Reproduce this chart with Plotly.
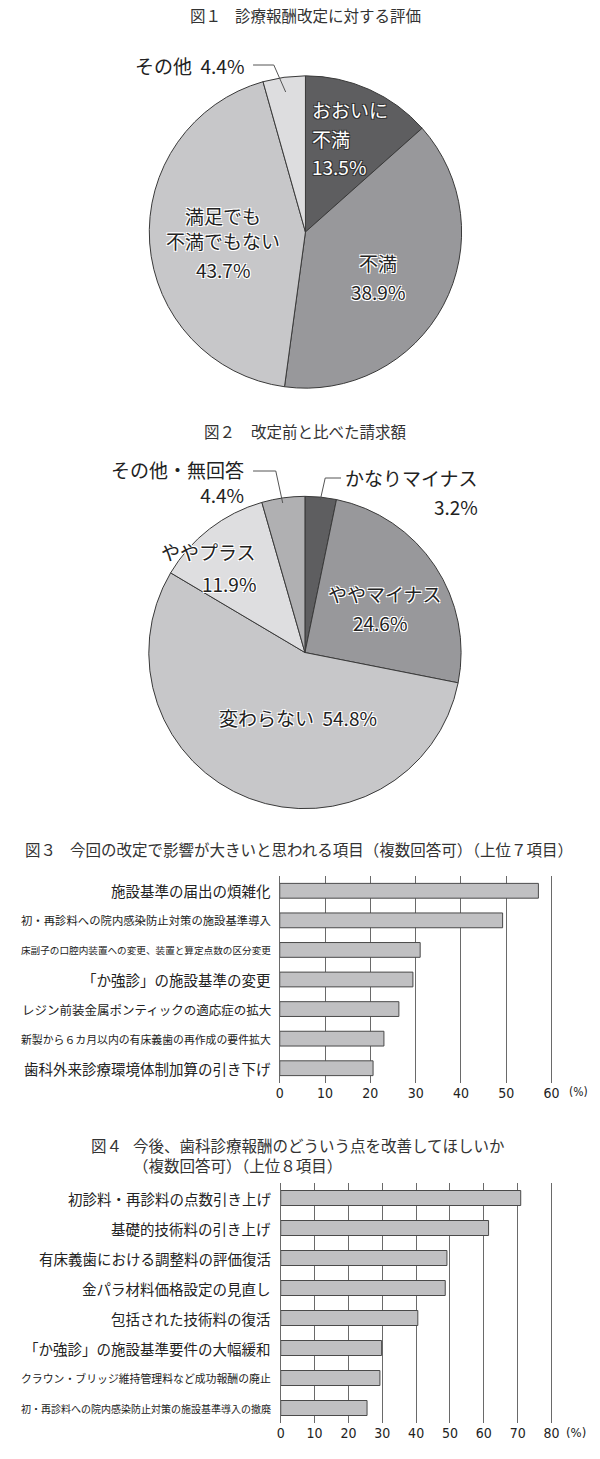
import plotly.graph_objects as go

# ---------------- data ----------------
pie1_labels = ["おおいに\n不満", "不満", "満足でも\n不満でもない", "その他"]
pie1_values = [13.5, 38.9, 43.7, 4.4]

pie2_labels = ["かなりマイナス", "ややマイナス", "変わらない", "ややプラス", "その他・無回答"]
pie2_values = [3.2, 24.6, 54.8, 11.9, 4.4]

fig3_items = [
    "施設基準の届出の煩雑化",
    "初・再診料への院内感染防止対策の施設基準導入",
    "床副子の口腔内装置への変更、装置と算定点数の区分変更",
    "「か強診」の施設基準の変更",
    "レジン前装金属ポンティックの適応症の拡大",
    "新製から６カ月以内の有床義歯の再作成の要件拡大",
    "歯科外来診療環境体制加算の引き下げ",
]
fig3_values = [57.1, 49.2, 31.0, 29.4, 26.3, 23.0, 20.6]

fig4_items = [
    "初診料・再診料の点数引き上げ",
    "基礎的技術料の引き上げ",
    "有床義歯における調整料の評価復活",
    "金パラ材料価格設定の見直し",
    "包括された技術料の復活",
    "「か強診」の施設基準要件の大幅緩和",
    "クラウン・ブリッジ維持管理料など成功報酬の廃止",
    "初・再診料への院内感染防止対策の施設基準導入の撤廃",
]
fig4_values = [70.9, 61.4, 49.1, 48.6, 40.5, 29.8, 29.3, 25.5]

fig3_max = 60
fig4_max = 80

titles = [
    ("図１", "診療報酬改定に対する評価"),
    ("図２", "改定前と比べた請求額"),
    ("図３", "今回の改定で影響が大きいと思われる項目（複数回答可）（上位７項目）"),
    ("図４", "今後、歯科診療報酬のどういう点を改善してほしいか\n（複数回答可）（上位８項目）"),
]

# ---------------- styling / layout helpers ----------------
W, H = 600, 1459
JP = "Noto Sans CJK JP, Noto Sans, sans-serif"
NUM = "Liberation Sans Narrow, DejaVu Sans Condensed, Roboto, sans-serif"
TXT = "#222222"
WHITE_HALO = "1px 1px 0 #fff, -1px -1px 0 #fff, 1px -1px 0 #fff, -1px 1px 0 #fff"
DARK_HALO = "1px 1px 0 #333, -1px -1px 0 #333, 1px -1px 0 #333, -1px 1px 0 #333"


def px(x):
    return x / W


def py(y):
    return 1 - y / H


def dom_x(a, b):
    return [px(a), px(b)]


def dom_y(top, bottom):
    return [py(bottom), py(top)]


pie1_colors = ["#5e5e60", "#98989b", "#c7c7c9", "#dddddf"]
pie2_colors = ["#5e5e60", "#98989b", "#c7c7c9", "#dedee0", "#b0b0b2"]
line_col = "#3a3a3a"

fig = go.Figure()

fig.add_trace(go.Pie(
    labels=[l.replace("\n", "") for l in pie1_labels], values=pie1_values,
    sort=False, direction="clockwise", rotation=0,
    domain=dict(x=dom_x(147, 463), y=dom_y(74, 390)),
    marker=dict(colors=pie1_colors, line=dict(color=line_col, width=1)),
    textinfo="none", hoverinfo="label+value", showlegend=False,
))
fig.add_trace(go.Pie(
    labels=pie2_labels, values=pie2_values,
    sort=False, direction="clockwise", rotation=0,
    domain=dict(x=dom_x(146.5, 462.5), y=dom_y(494.5, 810.5)),
    marker=dict(colors=pie2_colors, line=dict(color=line_col, width=1)),
    textinfo="none", hoverinfo="label+value", showlegend=False,
))

bar_fill = "#c0c0c2"
bar_line = "#4a4a4a"
fig.add_trace(go.Bar(
    x=fig3_values, y=list(range(len(fig3_items))), orientation="h",
    width=0.5, xaxis="x", yaxis="y", hovertext=fig3_items,
    marker=dict(color=bar_fill, line=dict(color=bar_line, width=1)), showlegend=False,
))
fig.add_trace(go.Bar(
    x=fig4_values, y=list(range(len(fig4_items))), orientation="h",
    width=0.5, xaxis="x2", yaxis="y2", hovertext=fig4_items,
    marker=dict(color=bar_fill, line=dict(color=bar_line, width=1)), showlegend=False,
))

grid_col = "#6a6a6a"
xcommon = dict(dtick=10, tick0=0, showgrid=True, gridcolor=grid_col, gridwidth=1,
               zeroline=True, zerolinecolor=grid_col, zerolinewidth=1,
               showline=False, ticks="", tickfont=dict(family=NUM, size=14, color=TXT),
               fixedrange=True)
ycommon = dict(showgrid=False, zeroline=False, showticklabels=False, ticks="",
               showline=False, fixedrange=True)

# small pad on the right so the last gridline is drawn
PAD = 1.02


def xdom(x0, x_at_max):
    return dom_x(x0, x0 + (x_at_max - x0) * PAD)


fig.update_layout(
    xaxis=dict(domain=xdom(279, 554), range=[0, fig3_max * PAD], anchor="y", **xcommon),
    yaxis=dict(domain=dom_y(876, 1083), range=[len(fig3_items) - 0.5, -0.5], anchor="x", **ycommon),
    xaxis2=dict(domain=xdom(280, 554), range=[0, fig4_max * PAD], anchor="y2", **xcommon),
    yaxis2=dict(domain=dom_y(1183, 1423), range=[len(fig4_items) - 0.5, -0.5], anchor="x2", **ycommon),
)

ann = []
shapes = []


def text(x, y, s, size=19, anchor="center", color=TXT, shadow=None, family=JP):
    f = dict(family=family, size=size, color=color)
    if shadow:
        f["shadow"] = shadow
    ann.append(dict(xref="paper", yref="paper", x=px(x), y=py(y), text=s,
                    showarrow=False, xanchor=anchor, yanchor="middle", font=f,
                    borderpad=0, align=anchor if anchor != "center" else "center"))


def leader(points):
    path = "M " + " L ".join(f"{px(a)},{py(b)}" for a, b in points)
    shapes.append(dict(type="path", xref="paper", yref="paper", path=path,
                       line=dict(color="#555555", width=1)))


def pct(v):
    return f"{v}%"


# titles
tsize = 15.5
tcol = "#333333"
text(187, 15, titles[0][0], size=tsize, anchor="left", color=tcol)
text(233, 15, titles[0][1], size=tsize, anchor="left", color=tcol)
text(201, 431, titles[1][0], size=tsize, anchor="left", color=tcol)
text(249, 431, titles[1][1], size=tsize, anchor="left", color=tcol)
text(20, 849, titles[2][0], size=tsize, anchor="left", color=tcol)
text(66, 849, titles[2][1], size=tsize, anchor="left", color=tcol)
text(87, 1145, titles[3][0], size=tsize, anchor="left", color=tcol)
text(130, 1155, titles[3][1].replace("\n", "<br>"), size=tsize, anchor="left", color=tcol)

# pie 1 labels
n0 = pie1_labels[0].split("\n")
text(311, 110, n0[0], anchor="left", color="#ffffff", shadow=DARK_HALO)
text(311, 138, n0[1], anchor="left", color="#ffffff", shadow=DARK_HALO)
text(311, 166, pct(pie1_values[0]), anchor="left", color="#ffffff", shadow=DARK_HALO)
text(378, 263, pie1_labels[1], shadow=WHITE_HALO)
text(378, 292, pct(pie1_values[1]), shadow=WHITE_HALO)
text(222, 228, pie1_labels[2].replace("\n", "<br>"), shadow=WHITE_HALO)
text(222, 269, pct(pie1_values[2]), shadow=WHITE_HALO)
text(244, 65, f"{pie1_labels[3]}  {pct(pie1_values[3])}", anchor="right")
leader([(252, 65), (273, 65), (285, 92)])

# pie 2 labels
text(344, 478, pie2_labels[0], anchor="left")
text(481, 507, pct(pie2_values[0]), anchor="right")
leader([(341, 478), (325, 478), (320, 500)])
text(244, 482, f"{pie2_labels[4]}<br>{pct(pie2_values[4])}", anchor="right")
leader([(252, 471), (275, 471), (282, 503)])
text(207, 552, pie2_labels[3], shadow=WHITE_HALO)
text(228, 583, pct(pie2_values[3]), shadow=WHITE_HALO)
text(385, 593, pie2_labels[1], shadow=WHITE_HALO)
text(380, 622, pct(pie2_values[1]), shadow=WHITE_HALO)
text(297, 717, f"{pie2_labels[2]}  {pct(pie2_values[2])}", shadow=WHITE_HALO)

# bar category labels
for ref, items in (("y", fig3_items), ("y2", fig4_items)):
    for i, s in enumerate(items):
        size = min(14.5, 250 / len(s))
        ann.append(dict(xref="paper", yref=ref, x=px(271), y=i, text=s, showarrow=False,
                        xanchor="right", yanchor="middle", borderpad=0,
                        font=dict(family=JP, size=size, color=TXT)))

# unit labels
text(581, 1092, "(%)", size=12, anchor="center", family=NUM)
text(579, 1432, "(%)", size=13, anchor="center", family=NUM)

fig.update_layout(
    width=W, height=H, margin=dict(l=0, r=0, t=0, b=0),
    paper_bgcolor="white", plot_bgcolor="white",
    showlegend=False, bargap=0.5,
    annotations=ann, shapes=shapes,
    font=dict(family=JP, color=TXT),
)

fig.write_html("out.html")
